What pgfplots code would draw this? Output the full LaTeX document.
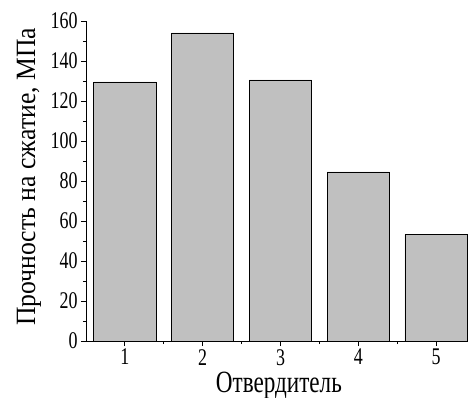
\documentclass[border=0pt]{standalone}
\usepackage{pgfplots}
\pgfplotsset{compat=1.18}
\usepackage{fontspec}
\setmainfont[FakeStretch=0.75]{Liberation Serif}
\newfontfamily\ylabfont[FakeStretch=0.92]{Liberation Serif}
\definecolor{bargray}{RGB}{192,192,192}
\begin{document}
\begin{tikzpicture}
\path[use as bounding box] (-86bp,-57bp) rectangle (382bp,341bp);
\begin{axis}[
  at={(0,0)}, anchor=south west,
  scale only axis, width=382bp, height=320bp,
  xmin=0.5, xmax=5.41, ymin=0, ymax=160,
  axis x line*=bottom, axis y line*=left,
  axis line style={line width=0.9bp},
  tick align=outside,
  major tick length=5bp, minor tick length=3bp,
  every tick/.style={black, line width=0.9bp},
  xtick={1,2,3,4,5},
  minor xtick={1.5,2.5,3.5,4.5},
  ytick={0,20,...,160},
  minor ytick={10,30,...,150},
  /pgf/number format/assume math mode=true,
  tick label style={font=\fontsize{24}{24}\selectfont},
  xticklabel style={inner sep=1bp, yshift=-2bp},
  xlabel={Отвердитель},
  ylabel={Прочность на сжатие, МПа},
  xlabel style={font=\fontsize{31}{31}\selectfont, inner sep=1bp, at={(axis description cs:0.505,-0.161)}, anchor=base},
  ylabel style={font=\ylabfont\fontsize{28}{28}\selectfont, at={(axis description cs:-0.1335,0.513)}, anchor=base},
  ybar, bar width=0.8,
]
\addplot[fill=bargray, draw=black, line width=0.8bp] coordinates {(1,129.5) (2,154) (3,130.5) (4,84.5) (5,53.2)};
\end{axis}
\end{tikzpicture}
\end{document}
